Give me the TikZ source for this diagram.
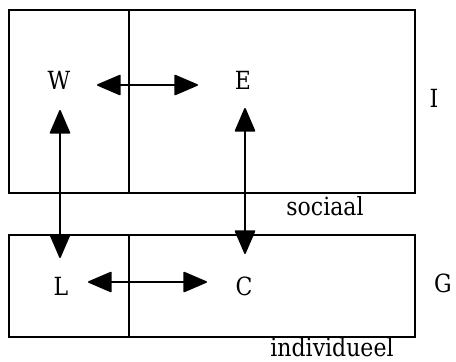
\documentclass[tikz,border=0pt]{standalone}
\usepackage{fontspec}
\setmainfont{DejaVu Serif}
\usetikzlibrary{arrows.meta}
\newcommand{\narrow}[1]{\scalebox{0.88}[1]{#1}}
\begin{document}
\begin{tikzpicture}[x=1pt,y=-1pt,
  frame/.style={line width=1.8pt},
  lbl/.style={inner sep=0pt,font=\fontsize{25}{30}\selectfont},
  tip/.tip={Triangle[length=25pt,width=21pt,round]},
  arr/.style={line width=1.6pt,tip-tip}]
\useasboundingbox (0,0) rectangle (456,362);
% two frames, each split by a vertical line
\draw[frame] (9,10) rectangle (415,193);
\draw[frame] (129,10) -- (129,193);
\draw[frame] (9,235) rectangle (415,337);
\draw[frame] (129,235) -- (129,337);
% labels
\node[lbl] (W) at (59,80) {\narrow{W}};
\node[lbl] (E) at (243,80) {\narrow{E}};
\node[lbl] (L) at (61,286) {\narrow{L}};
\node[lbl] (C) at (244,286) {\narrow{C}};
\node[lbl] (I) at (434,98) {\narrow{I}};
\node[lbl] (G) at (443,283) {\narrow{G}};
\node[lbl] (soc) at (325,206) {\narrow{sociaal}};
\node[lbl] (ind) at (332,347) {\narrow{individueel}};
% connections
\draw[arr,shorten <=38pt,shorten >=45pt] ([yshift=-5pt]W.center) -- ([yshift=-5pt]E.center);
\draw[arr,shorten <=27pt,shorten >=37pt] ([yshift=4pt]L.center) -- ([yshift=4pt]C.center);
\draw[arr,shorten <=30pt,shorten >=28pt] ([xshift=1pt]W.center) -- ([xshift=1pt]W.center |- L.center);
\draw[arr,shorten <=28pt,shorten >=32pt] ([xshift=2pt]E.center) -- ([xshift=2pt]E.center |- C.center);
\end{tikzpicture}
\end{document}
